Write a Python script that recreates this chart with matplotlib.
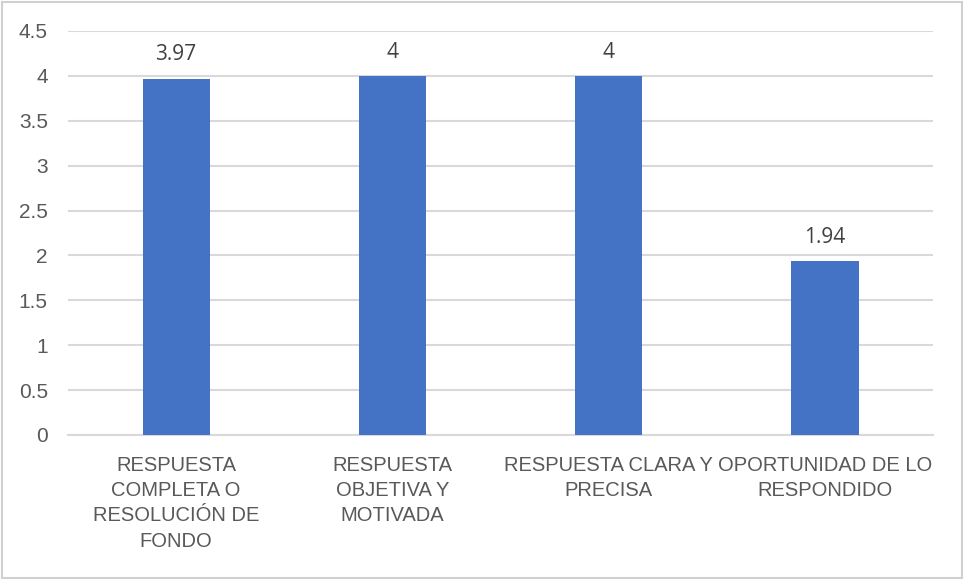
import matplotlib.pyplot as plt
from matplotlib.patches import Rectangle

categories = ['RESPUESTA\nCOMPLETA O\nRESOLUCIÓN DE\nFONDO',
              'RESPUESTA\nOBJETIVA Y\nMOTIVADA',
              'RESPUESTA CLARA Y\nPRECISA',
              'OPORTUNIDAD DE LO\nRESPONDIDO']
scores = [3.97, 4, 4, 1.94]
score_labels = ['3.97', '4', '4', '1.94']
yticks = [0, 0.5, 1, 1.5, 2, 2.5, 3, 3.5, 4, 4.5]
ytick_labels = ['0', '0.5', '1', '1.5', '2', '2.5', '3', '3.5', '4', '4.5']

narrow = ['Liberation Sans Narrow', 'Liberation Sans', 'DejaVu Sans']
text_grey = '#595959'
grid_grey = '#d9d9d9'

fig = plt.figure(figsize=(9.64, 5.80), dpi=100)
fig.patches.append(Rectangle((0.002, 0.003), 0.996, 0.994, transform=fig.transFigure,
                             fill=False, edgecolor='#d0d0d0', linewidth=1.5))

ax = fig.add_axes([0.0705, 0.25, 0.8975, 0.6966])
x = range(len(categories))
bars = ax.bar(x, scores, width=0.31, color='#4472c4', zorder=3)
ax.bar_label(bars, labels=score_labels, padding=9.5, fontsize=15,
             color='#404040', family=['Open Sans', 'DejaVu Sans'])

ax.set_xlim(-0.5, len(categories) - 0.5)
ax.set_ylim(0, 4.5)
ax.set_yticks(yticks)
ax.set_yticklabels(ytick_labels, family=narrow, fontsize=15, color=text_grey)
ax.set_xticks(list(x))
ax.set_xticklabels(categories, family=narrow, fontsize=14.5, color=text_grey,
                   linespacing=1.42, va='top')
ax.tick_params(axis='y', length=0, pad=14.5)
ax.tick_params(axis='x', length=0, pad=15)
ax.yaxis.grid(True, color=grid_grey, linewidth=1.5, zorder=0)
for side in ['top', 'right', 'left']:
    ax.spines[side].set_visible(False)
ax.spines['bottom'].set_color(grid_grey)
ax.spines['bottom'].set_linewidth(1.5)

fig.savefig('out.png', dpi=100)
